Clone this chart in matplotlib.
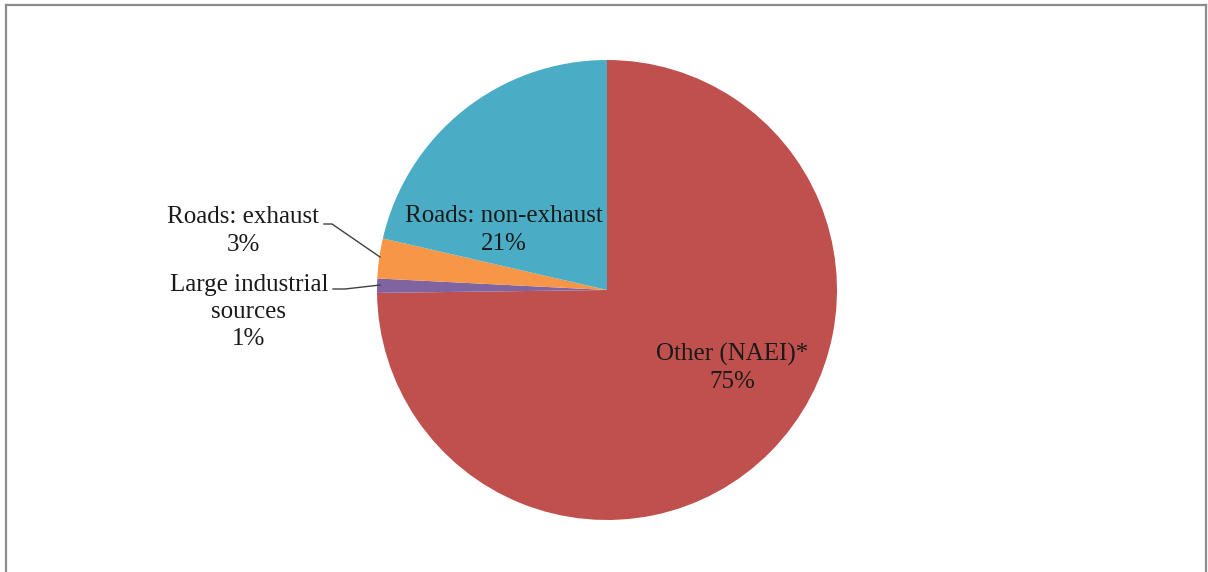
import matplotlib.pyplot as plt
from matplotlib.lines import Line2D

# slice data, in drawing order (clockwise from 12 o'clock)
labels = ['Other (NAEI)*', 'Large industrial\nsources', 'Roads: exhaust', 'Roads: non-exhaust']
shares = [74.8, 1.0, 2.8, 21.4]
colors = ['#C0504D', '#8064A2', '#F79646', '#4BACC6']

W, H = 1208, 572
cx, cy, R = 607, 290, 230   # pie centre and radius in pixels

plt.rcParams['font.family'] = ['Liberation Serif', 'DejaVu Serif']

fig = plt.figure(figsize=(W / 100, H / 100), dpi=100)
ax = fig.add_axes([0, 0, 1, 1])

ax.pie(shares, colors=colors, startangle=90, counterclock=False, radius=1,
       wedgeprops=dict(linewidth=0))
ax.set_aspect('auto')
ax.set_xlim(-cx / R, (W - cx) / R)
ax.set_ylim(-(H - cy) / R, cy / R)
ax.axis('off')

def px(x, y):
    return ((x - cx) / R, (cy - y) / R)

txt = [f'{l}\n{round(s):.0f}%' for l, s in zip(labels, shares)]
fs = 18
ls = 1.3
tc = '#1a1a1a'
# inside labels
ax.text(*px(732, 368), txt[0], ha='center', va='center', fontsize=fs, linespacing=ls, color=tc)
ax.text(*px(504, 230), txt[3], ha='center', va='center', fontsize=fs, linespacing=ls, color=tc)
# outside labels with leader lines
ax.text(*px(243, 231), txt[2], ha='center', va='center', fontsize=fs, linespacing=ls, color=tc)
ax.text(*px(249, 312), txt[1], ha='center', va='center', fontsize=fs, linespacing=ls, color=tc)
lc = '#404040'
ax.plot(*zip(px(324, 224), px(332, 224), px(380, 257)), color=lc, lw=1)
ax.plot(*zip(px(333, 289), px(345, 289), px(380, 285)), color=lc, lw=1)

# outer frame
bc = '#8c8c8c'
for xs, ys in [([5.5, 5.5], [H + 5, 4.5]), ([5.5, 1206], [4.5, 4.5]), ([1206, 1206], [4.5, H + 5])]:
    fig.add_artist(Line2D([x / W for x in xs], [1 - y / H for y in ys],
                          transform=fig.transFigure, color=bc, lw=1.6))

fig.savefig('out.png', dpi=100)
